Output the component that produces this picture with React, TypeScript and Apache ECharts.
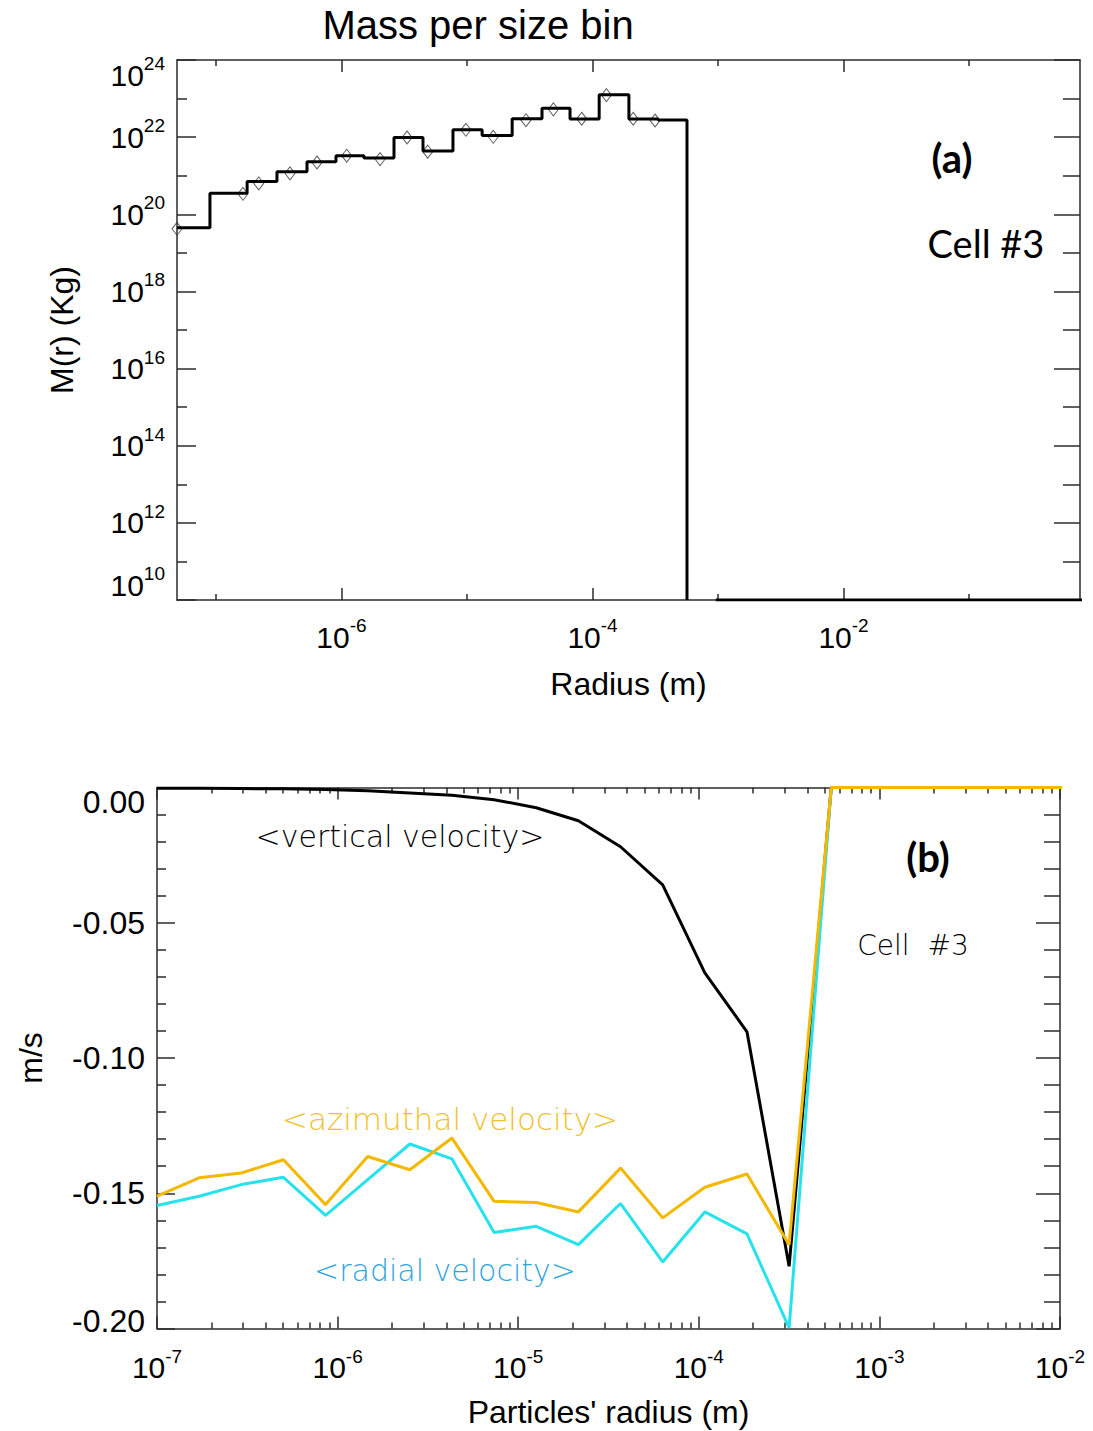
import React, { useEffect, useRef } from 'react';
import * as echarts from 'echarts';

const SANS = '"Liberation Sans", Arial, Helvetica, sans-serif';
const THIN = '"DejaVu Sans", sans-serif';
const CAL = 'Lato, "Open Sans", sans-serif';
const AX = '#2b2b2b';

// ---------------- Panel (a): mass per size bin ----------------
// bin edges (m) and mass in each bin (kg)
const massBinEdges = [4.89e-8, 8.95e-8, 1.77e-7, 3.06e-7, 5.31e-7, 9.04e-7, 1.51e-6, 2.62e-6, 4.46e-6, 7.73e-6, 1.32e-5, 2.29e-5, 3.96e-5, 6.62e-5, 1.13e-4, 1.95e-4, 3.33e-4, 5.66e-4];
const massPerBin = [4.5e19, 3.5e20, 7.1e20, 1.26e21, 2.3e21, 3.3e21, 2.9e21, 9.8e21, 4.4e21, 1.55e22, 1.1e22, 3.0e22, 5.6e22, 2.95e22, 1.26e23, 2.95e22, 2.8e22];
// empty bins drawn along the floor of the plot
const emptyBinRadius = [9.6e-4, 1.0];
const massFloor = 1e10;
// sampled points (diamonds)
const sampleRadius = [4.89e-8, 1.64e-7, 2.19e-7, 3.89e-7, 6.38e-7, 1.1e-6, 2.03e-6, 3.33e-6, 4.86e-6, 9.8e-6, 1.62e-5, 2.95e-5, 4.88e-5, 8.2e-5, 1.29e-4, 2.11e-4, 3.15e-4];
const sampleMass = [4.2e19, 3.4e20, 6.3e20, 1.15e21, 2.2e21, 3.3e21, 2.7e21, 9.8e21, 4.2e21, 1.55e22, 1.02e22, 2.75e22, 5.25e22, 3.0e22, 1.23e23, 3.0e22, 2.7e22];
// axes
const massXMin = 4.89e-8;
const massXMax = 0.766;
const massXMajor = [1e-6, 1e-4, 1e-2];
const massXMinor = [1e-7, 1e-5, 1e-3, 1e-1];
const massYMin = 1e10;
const massYMax = 1e24;
const massYMajor = [1e10, 1e12, 1e14, 1e16, 1e18, 1e20, 1e22, 1e24];
const massYMinor = [1e11, 1e13, 1e15, 1e17, 1e19, 1e21, 1e23];

// ---------------- Panel (b): mean velocities ----------------
const velRadius = [1.0e-7, 1.711e-7, 2.929e-7, 5.012e-7, 8.577e-7, 1.468e-6, 2.512e-6, 4.299e-6, 7.356e-6, 1.259e-5, 2.154e-5, 3.687e-5, 6.31e-5, 1.08e-4, 1.848e-4, 3.162e-4, 5.412e-4, 9.261e-4, 1.585e-3, 2.712e-3, 4.642e-3, 7.943e-3, 1.359e-2];
const verticalVel = [-0.0003, -0.0003, -0.0004, -0.0005, -0.0007, -0.0012, -0.002, -0.0029, -0.0045, -0.0075, -0.0123, -0.0219, -0.036, -0.0685, -0.0903, -0.177, 0, 0, 0, 0, 0, 0, 0];
const azimuthalVel = [-0.1511, -0.1443, -0.1425, -0.1376, -0.1542, -0.1364, -0.1413, -0.1296, -0.153, -0.1534, -0.1569, -0.1407, -0.1591, -0.1478, -0.1429, -0.169, 0, 0, 0, 0, 0, 0, 0];
const radialVel = [-0.1545, -0.1511, -0.1468, -0.1441, -0.1582, -0.145, -0.1318, -0.1373, -0.1645, -0.1622, -0.169, -0.1538, -0.1754, -0.1569, -0.165, -0.1998, 0, 0, 0, 0, 0, 0, 0];
const velXDecades = [1e-7, 1e-6, 1e-5, 1e-4, 1e-3, 1e-2];
const velXMinorFactors = [2, 3, 4, 5, 6, 7, 8, 9];
const velYMajor = [0, -0.05, -0.1, -0.15, -0.2];
const velYStep = 0.01;
const velYMin = -0.2;
const velYMax = 0;

const lg = (v: number) => Math.log10(v);

function axisPair(gridIndex: number, min: number, max: number, position: string,
  longVals: number[], shortVals: number[], longLen: number, shortLen: number, label: any, extra: any) {
  const common: any = { type: 'value', gridIndex, min, max, position, splitLine: { show: false } };
  const tickStyle = { color: AX, width: 1.5 };
  const main: any = {
    ...common,
    axisLine: { show: true, onZero: false, lineStyle: { color: AX, width: 1.5 } },
    axisTick: { show: true, inside: true, length: longLen, customValues: longVals, lineStyle: tickStyle },
    axisLabel: label ? { show: true, showMinLabel: true, showMaxLabel: true, ...label } : { show: false },
    ...(extra || {}),
  };
  const minor: any = {
    ...common,
    axisLine: { show: false, onZero: false },
    axisTick: { show: true, inside: true, length: shortLen, customValues: shortVals, lineStyle: tickStyle },
    axisLabel: { show: false },
  };
  return [main, minor];
}

const supBase = { fontFamily: SANS, color: '#000', verticalAlign: 'bottom' };
const powRich = {
  b: { ...supBase, fontSize: 30, lineHeight: 30 },
  s: { ...supBase, fontSize: 19, lineHeight: 19, padding: [0, 0, 17, 0] },
};

function buildOption() {
  // ----- panel (a) axes -----
  const aXLong = massXMajor.map(lg);
  const aXShort = massXMinor.map(lg);
  const aYLong = massYMajor.map(lg);
  const aYShort = massYMinor.map(lg);
  const aXMin = lg(massXMin), aXMax = lg(massXMax), aYMin = lg(massYMin), aYMax = lg(massYMax);

  const powX = {
    customValues: aXLong,
    margin: 22,
    formatter: (v: number) => `{b|10}{s|${Math.round(v)}}`,
    rich: powRich,
  };
  const powY = {
    customValues: aYLong,
    margin: 12,
    verticalAlignMinLabel: 'bottom',
    verticalAlignMaxLabel: 'top',
    formatter: (v: number) => `{b|10}{s|${Math.round(v)}}`,
    rich: powRich,
  };

  // ----- panel (b) axes -----
  const bXLong = velXDecades.map(lg);
  const bXShort: number[] = [];
  velXDecades.slice(0, -1).forEach((d) => velXMinorFactors.forEach((f) => bXShort.push(lg(d * f))));
  const bYShort: number[] = [];
  for (let k = 1; k < Math.round((velYMax - velYMin) / velYStep); k++) {
    if (k % 5 !== 0) bYShort.push(-k * velYStep);
  }
  const numRich = {
    n: { fontFamily: SANS, fontSize: 32, lineHeight: 32, color: '#000' },
    nT: { fontFamily: SANS, fontSize: 32, lineHeight: 32, color: '#000', padding: [28, 0, 0, 0] },
    nB: { fontFamily: SANS, fontSize: 32, lineHeight: 32, color: '#000', padding: [0, 0, 16, 0] },
  };
  const velY = {
    customValues: velYMajor,
    margin: 12,
    formatter: (v: number) => {
      const k = Math.abs(v - velYMax) < 1e-9 ? 'nT' : Math.abs(v - velYMin) < 1e-9 ? 'nB' : 'n';
      return `{${k}|${v.toFixed(2)}}`;
    },
    rich: numRich,
  };
  const velX = {
    customValues: bXLong,
    margin: 24,
    formatter: (v: number) => `{b|10}{s|${Math.round(v)}}`,
    rich: powRich,
  };

  const nameStyle = { fontFamily: SANS, fontSize: 32, color: '#000' };
  const bXMin = lg(velXDecades[0]);
  const bXMax = lg(velXDecades[velXDecades.length - 1]);

  const xAxis = [
    ...axisPair(0, aXMin, aXMax, 'bottom', aXLong, aXShort, 12, 6, powX,
      { name: 'Radius (m)', nameLocation: 'middle', nameGap: 68, nameTextStyle: nameStyle }),
    ...axisPair(0, aXMin, aXMax, 'top', aXLong, aXShort, 12, 6, null, null),
    ...axisPair(1, bXMin, bXMax, 'bottom', bXLong, bXShort, 12, 6, velX,
      { name: "Particles' radius (m)", nameLocation: 'middle', nameGap: 67, nameTextStyle: nameStyle }),
    ...axisPair(1, bXMin, bXMax, 'top', bXLong, bXShort, 12, 6, null, null),
  ];
  const yAxis = [
    ...axisPair(0, aYMin, aYMax, 'left', aYLong, aYShort, 19, 10, powY,
      { name: 'M(r) (Kg)', nameLocation: 'middle', nameRotate: 90, nameGap: 99, nameTextStyle: nameStyle }),
    ...axisPair(0, aYMin, aYMax, 'right', aYLong, aYShort, 26, 17, null, null),
    ...axisPair(1, velYMin, velYMax, 'left', velYMajor, bYShort, 18, 9, velY,
      { name: 'm/s', nameLocation: 'middle', nameRotate: 90, nameGap: 110, nameTextStyle: nameStyle }),
    ...axisPair(1, velYMin, velYMax, 'right', velYMajor, bYShort, 24, 16, null, null),
  ];

  // step outline of the mass histogram
  const stepData: number[][] = [];
  massPerBin.forEach((m, i) => {
    stepData.push([lg(massBinEdges[i]), lg(m)], [lg(massBinEdges[i + 1]), lg(m)]);
  });
  stepData.push([lg(massBinEdges[massBinEdges.length - 1]), lg(massFloor)]);
  const floorData = emptyBinRadius.map((r) => [lg(r), lg(massFloor)]);
  const diamondData = sampleRadius.map((r, i) => [lg(r), lg(sampleMass[i])]);

  const velSeries = (vals: number[], color: string, name: string) => ({
    type: 'line', name, xAxisIndex: 4, yAxisIndex: 4,
    data: velRadius.map((r, i) => [lg(r), vals[i]]),
    symbol: 'none', showSymbol: false, clip: true,
    lineStyle: { color, width: 3 },
  });

  const txt = (text: string, x: number, y: number, style: any) => ({
    type: 'text', x, y, silent: true,
    style: { text, fill: '#000', align: 'center', verticalAlign: 'middle', textAlign: 'center', textVerticalAlign: 'middle', ...style },
  });

  return {
    animation: false,
    backgroundColor: '#ffffff',
    grid: [
      { left: 177, top: 60, width: 903, height: 540 },
      { left: 157, top: 787.5, width: 903, height: 541 },
    ],
    xAxis,
    yAxis,
    series: [
      { type: 'line', name: 'Mass per bin', xAxisIndex: 0, yAxisIndex: 0, data: stepData, symbol: 'none', showSymbol: false, clip: true, lineStyle: { color: '#000', width: 3 } },
      { type: 'line', name: 'Empty bins', xAxisIndex: 0, yAxisIndex: 0, data: floorData, symbol: 'none', showSymbol: false, clip: true, lineStyle: { color: '#000', width: 3 } },
      { type: 'scatter', name: 'Samples', xAxisIndex: 0, yAxisIndex: 0, data: diamondData, symbol: 'diamond', symbolSize: [10, 13], clip: false,
        itemStyle: { color: 'rgba(255,255,255,0)', borderColor: '#333', borderWidth: 1 } },
      velSeries(verticalVel, '#000000', '<vertical velocity>'),
      velSeries(radialVel, '#27E2EC', '<radial velocity>'),
      velSeries(azimuthalVel, '#F5B800', '<azimuthal velocity>'),
    ],
    graphic: [
      txt('Mass per size bin', 478, 25, { fontSize: 40, fontFamily: SANS }),
      txt('(a)', 952, 158, { fontSize: 40, fontFamily: CAL, fontWeight: 'bold' }),
      txt('Cell #3', 986, 243, { fontSize: 38, fontFamily: CAL }),
      txt('(b)', 928, 857, { fontSize: 40, fontFamily: CAL, fontWeight: 'bold' }),
      txt('Cell  #3', 913, 945, { fontSize: 28, fontFamily: THIN, fontWeight: 200 }),
      txt('<vertical velocity>', 400, 836, { fontSize: 30, fontFamily: THIN, fontWeight: 200 }),
      txt('<azimuthal velocity>', 450, 1119, { fontSize: 31, fontFamily: THIN, fontWeight: 200, fill: '#EFC12B' }),
      txt('<radial velocity>', 445, 1270, { fontSize: 30, fontFamily: THIN, fontWeight: 200, fill: '#2EA3DC' }),
    ],
  };
}

export default function App() {
  const ref = useRef<HTMLDivElement>(null);
  useEffect(() => {
    if (!ref.current) return;
    const chart = echarts.init(ref.current, undefined, { renderer: 'svg' });
    chart.setOption(buildOption() as any);
    return () => chart.dispose();
  }, []);
  return (
    <div
      ref={ref}
      style={{ position: 'absolute', left: 0, top: 0, width: 1093, height: 1431, background: '#fff' }}
    />
  );
}
